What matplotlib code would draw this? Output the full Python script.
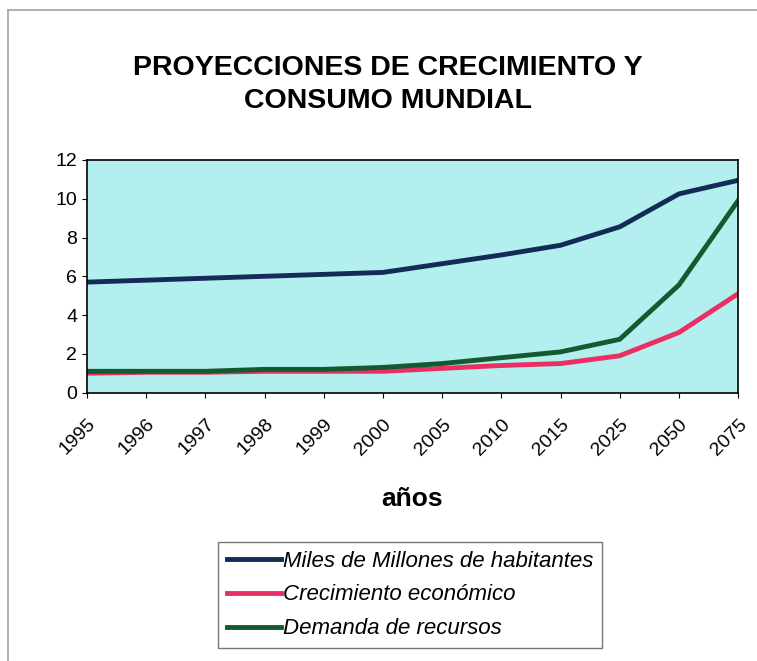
import matplotlib.pyplot as plt
from matplotlib.lines import Line2D

plt.rcParams["font.family"] = ["Liberation Sans", "DejaVu Sans"]

# Data
years = ["1995", "1996", "1997", "1998", "1999", "2000",
         "2005", "2010", "2015", "2025", "2050", "2075"]
habitantes = [5.7, 5.8, 5.9, 6.0, 6.1, 6.2, 6.65, 7.1, 7.6, 8.55, 10.25, 10.95]
crecimiento = [1.0, 1.05, 1.05, 1.1, 1.1, 1.1, 1.25, 1.4, 1.5, 1.9, 3.1, 5.1]
demanda = [1.1, 1.1, 1.1, 1.2, 1.2, 1.3, 1.5, 1.8, 2.1, 2.75, 5.55, 9.9]

fig = plt.figure(figsize=(7.57, 6.61), dpi=100)
ax = fig.add_axes([0.115, 0.406, 0.86, 0.352])
ax.set_facecolor("#b3efee")

x = range(len(years))
ax.plot(x, habitantes, color="#142a57", lw=3.5, label="Miles de Millones de habitantes")
ax.plot(x, crecimiento, color="#ea2f64", lw=3.5, label="Crecimiento económico")
ax.plot(x, demanda, color="#145a30", lw=3.5, label="Demanda de recursos")

ax.set_xlim(0, len(years) - 1)
ax.set_ylim(0, 12)
ax.set_yticks(range(0, 13, 2))
ax.set_xticks(list(x))
ax.set_xticklabels(years, rotation=45, ha="right", rotation_mode="anchor", fontsize=14)
ax.tick_params(axis="y", labelsize=14)
ax.tick_params(axis="x", pad=13)
for s in ax.spines.values():
    s.set_linewidth(1.2)

# chart area border (left and top edges visible in the scan)
fig.add_artist(Line2D([0.0106, 0.0106], [0, 0.985], color="#aaaaaa", lw=1.3))
fig.add_artist(Line2D([0.0106, 1], [0.985, 0.985], color="#aaaaaa", lw=1.3))

fig.text(0.512, 0.872, "PROYECCIONES DE CRECIMIENTO Y\nCONSUMO MUNDIAL",
         ha="center", va="center", fontsize=20.5, fontweight="bold", linespacing=1.35)
fig.text(0.544, 0.245, "años", ha="center", va="center", fontsize=19, fontweight="bold")

leg = fig.legend(loc="center", bbox_to_anchor=(0.542, 0.1), frameon=True,
                 fancybox=False, edgecolor="#555555", handlelength=2.4,
                 handletextpad=0.1, labelspacing=0.58, borderpad=0.4,
                 borderaxespad=0, prop={"style": "italic", "size": 16})
leg.get_frame().set_linewidth(1.0)
for h in leg.get_lines():
    h.set_linewidth(3.5)

plt.savefig("out.png")
